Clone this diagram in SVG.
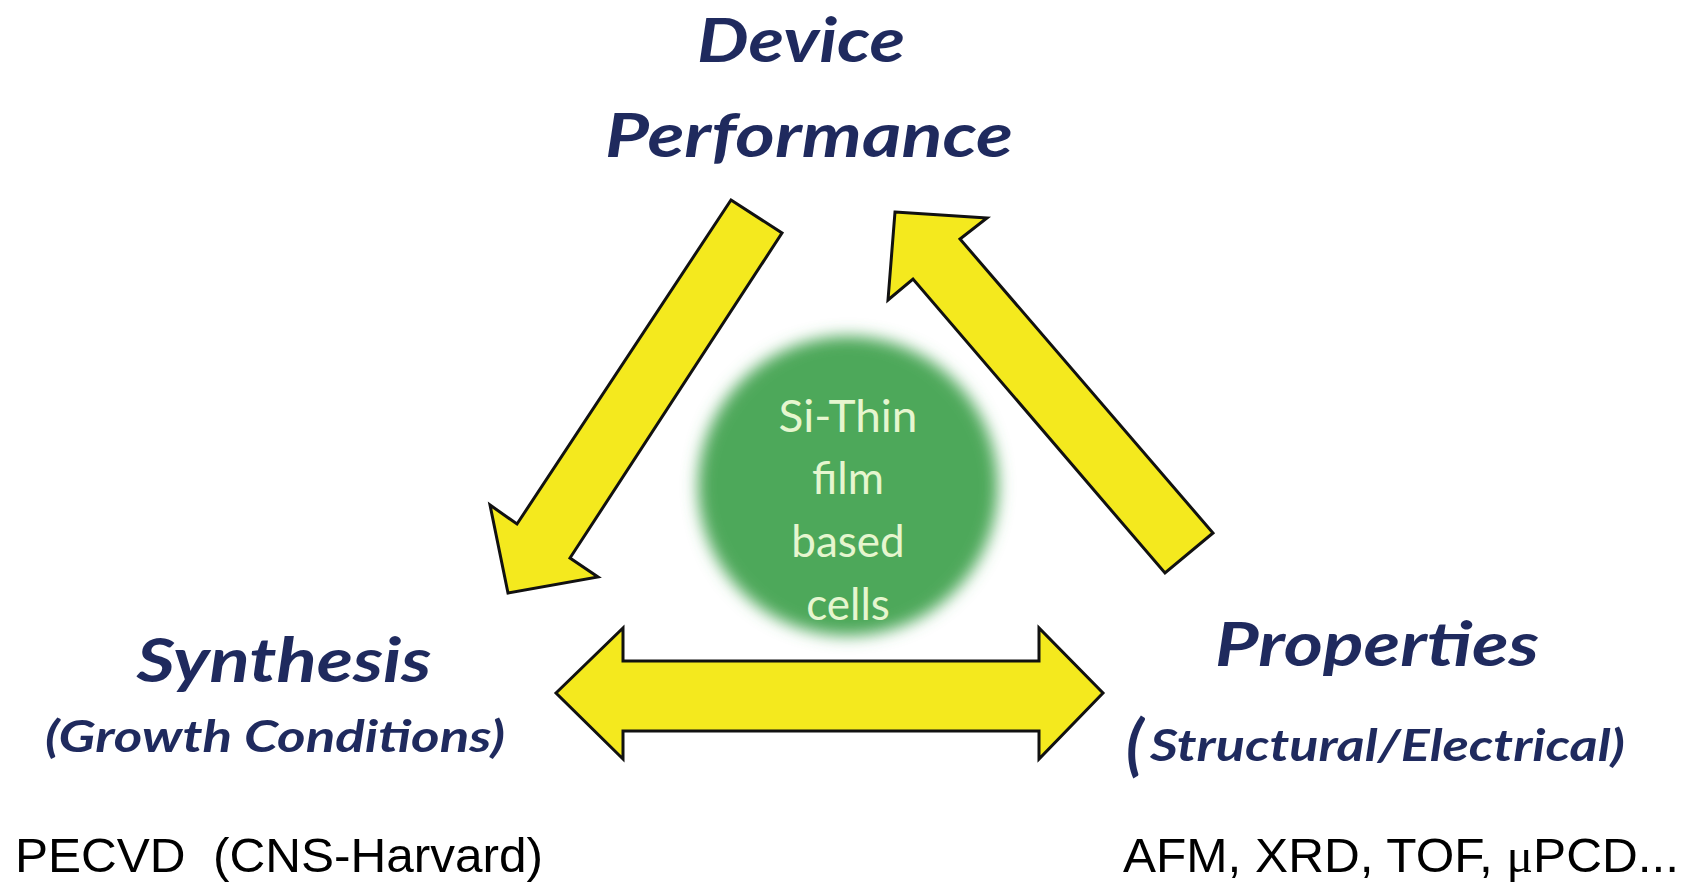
<svg xmlns="http://www.w3.org/2000/svg" width="1693" height="883" viewBox="0 0 1693 883">
<style>
.arrow{fill:#f4e91e;stroke:#111;stroke-width:3;stroke-linejoin:miter}
.title{font-family:Lato,"Open Sans",sans-serif;font-weight:bold;font-style:italic;fill:#1f2a5e}
.plain{font-family:"Liberation Sans",Arial,sans-serif;fill:#000}
.core{font-family:Lato,"Open Sans",sans-serif;fill:#e6f6cf;text-anchor:middle}
</style>
<defs>
<filter id="blur" x="-20%" y="-20%" width="140%" height="140%"><feGaussianBlur stdDeviation="8"/></filter>
</defs>
<rect width="1693" height="883" fill="#fff"/>
<g id="connectors">
<polygon class="arrow" points="731,200 782,233 570,558 598,577 508,593 490,505 517,524"/>
<polygon class="arrow" points="895,212 987,218 960,239 1213,533 1165,573 913,279 888,300"/>
<polygon class="arrow" points="556,693 623,628 623,661 1039,661 1039,628 1103,693 1039,759 1039,731 623,731 623,759"/>
</g>
<g id="core">
<circle cx="848" cy="486" r="150" fill="#4ea85a" filter="url(#blur)"/>
<text class="core" x="848" y="432" font-size="44" textLength="139" lengthAdjust="spacingAndGlyphs">Si-Thin</text>
<text class="core" x="848" y="494" font-size="44">film</text>
<text class="core" x="848" y="557" font-size="44">based</text>
<text class="core" x="848" y="620" font-size="44">cells</text>
</g>
<g id="device">
<text class="title" x="801" y="62" font-size="62" text-anchor="middle" textLength="208" lengthAdjust="spacingAndGlyphs">Device</text>
<text class="title" x="809" y="157" font-size="62" text-anchor="middle" textLength="408" lengthAdjust="spacingAndGlyphs">Performance</text>
</g>
<g id="synthesis">
<text class="title" x="284" y="682" font-size="62" text-anchor="middle" textLength="295" lengthAdjust="spacingAndGlyphs">Synthesis</text>
<text class="title" x="275" y="752" font-size="44" text-anchor="middle" textLength="460" lengthAdjust="spacingAndGlyphs">(Growth Conditions)</text>
<text class="plain" x="15" y="872" font-size="48" textLength="528" lengthAdjust="spacingAndGlyphs" xml:space="preserve">PECVD  (CNS-Harvard)</text>
</g>
<g id="properties">
<text class="title" x="1377" y="666" font-size="62" text-anchor="middle" textLength="324" lengthAdjust="spacingAndGlyphs">Properties</text>
<text class="title" x="1126" y="768" font-size="66">(</text>
<text class="title" x="1150" y="761" font-size="43" textLength="475" lengthAdjust="spacingAndGlyphs">Structural/Electrical)</text>
<text class="plain" x="1123" y="872" font-size="48" textLength="556" lengthAdjust="spacingAndGlyphs">AFM, XRD, TOF, <tspan font-family="Liberation Serif,serif">μ</tspan>PCD...</text>
</g>
</svg>
